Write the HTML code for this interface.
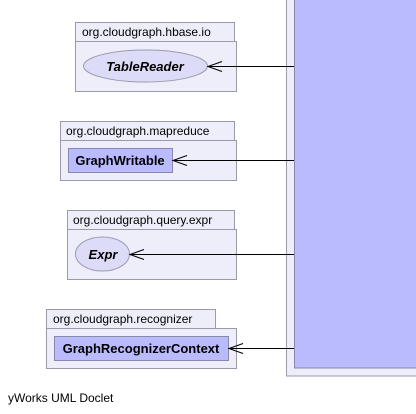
<!DOCTYPE html>
<html><head><meta charset="utf-8"><style>
html,body{margin:0;padding:0;background:#fff;width:416px;height:414px;overflow:hidden}
</style></head><body>
<svg width="416" height="414" xmlns="http://www.w3.org/2000/svg" font-family="Liberation Sans, sans-serif">
<rect x="286.5" y="-2" width="140" height="378" fill="#eeeefa" stroke="#999aaa"/>
<rect x="294.5" y="-2" width="130" height="370" fill="#babaff" stroke="#8888aa"/>

<g stroke="#999aaa" fill="#eeeefa">
<rect x="75.5" y="22.5" width="159" height="19"/>
<rect x="75.5" y="41.5" width="161" height="50"/>
<rect x="60.5" y="121.5" width="174" height="19"/>
<rect x="60.5" y="140.5" width="176" height="40"/>
<rect x="67.5" y="210.5" width="167" height="19"/>
<rect x="67.5" y="229.5" width="169" height="50"/>
<rect x="46.5" y="309.5" width="169" height="19"/>
<rect x="46.5" y="328.5" width="190" height="40"/>
</g>
<g font-size="12" fill="#000">
<text x="82" y="36">org.cloudgraph.hbase.io</text>
<text x="66" y="135">org.cloudgraph.mapreduce</text>
<text x="73" y="224">org.cloudgraph.query.expr</text>
<text x="53" y="323">org.cloudgraph.recognizer</text>
</g>
<ellipse cx="145.5" cy="66" rx="62" ry="16" fill="#dcdcf8" stroke="#9a9ab0"/>
<ellipse cx="102.5" cy="254" rx="27" ry="17" fill="#dcdcf8" stroke="#9a9ab0"/>
<rect x="68.5" y="148.5" width="104" height="24" fill="#babaff" stroke="#8888aa"/>
<rect x="54.5" y="336.5" width="174" height="24" fill="#babaff" stroke="#8888aa"/>
<g font-size="13" font-weight="bold" fill="#000" text-anchor="middle">
<text x="145" y="71" font-style="italic">TableReader</text>
<text x="120" y="165">GraphWritable</text>
<text x="103" y="259" font-style="italic">Expr</text>
<text x="141" y="353">GraphRecognizerContext</text>
</g>
<g stroke="#000" fill="none" stroke-width="1">
<path d="M294 66.5H208M222 61.5L208 66.5L222 71.5"/>
<path d="M294 160.5H173M187 155.5L173 160.5L187 165.5"/>
<path d="M294 254.5H130M144 249.5L130 254.5L144 259.5"/>
<path d="M294 348.5H229M243 343.5L229 348.5L243 353.5"/>
</g>
<text x="8" y="402" font-size="12" fill="#000">yWorks UML Doclet</text>
</svg>
</body></html>
